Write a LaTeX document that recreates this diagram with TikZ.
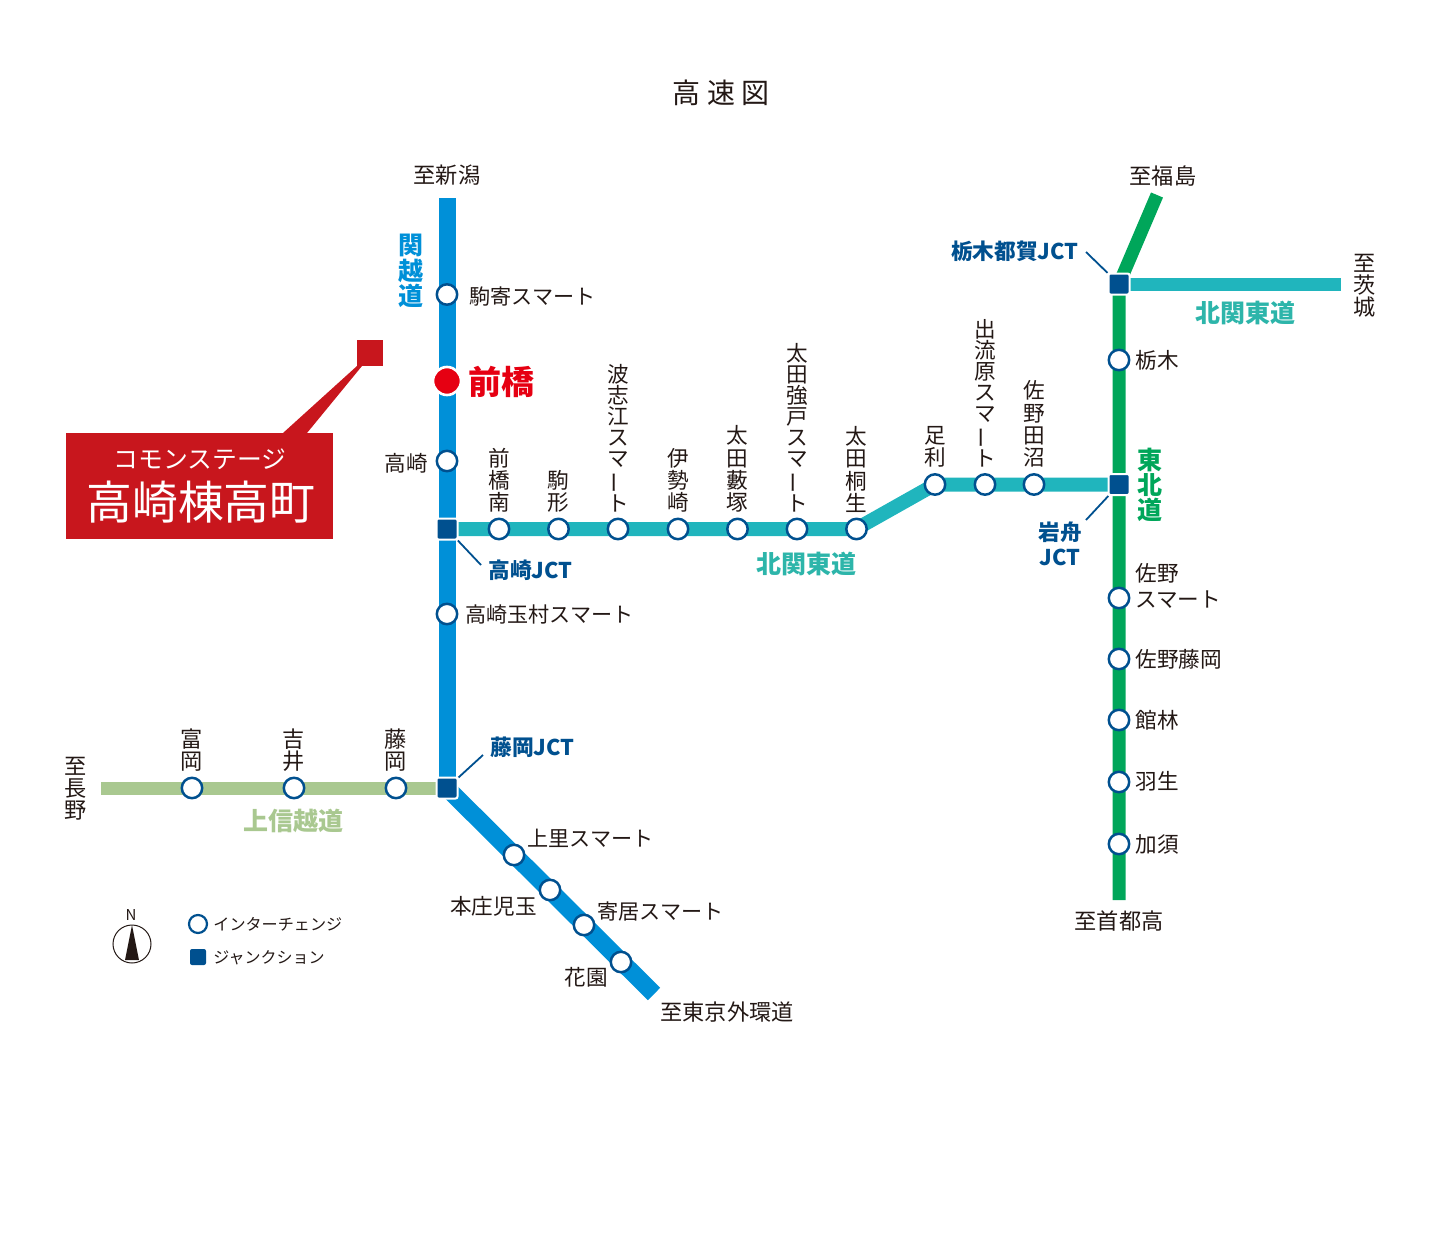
\documentclass[tikz,border=0pt]{standalone}
\usepackage{fontspec}
\setmainfont{Noto Sans CJK JP}
\usetikzlibrary{backgrounds}
\definecolor{kanblue}{HTML}{0090D8}
\definecolor{kitateal}{HTML}{20B5BD}
\definecolor{kitatext}{HTML}{2DB5AA}
\definecolor{tohgreen}{HTML}{00A65A}
\definecolor{joshin}{HTML}{A9C890}
\definecolor{navy}{HTML}{00508F}
\definecolor{callred}{HTML}{C8161D}
\definecolor{tagred}{HTML}{E60012}
\definecolor{inktext}{HTML}{231815}
\newcommand{\vbar}{\rotatebox[origin=c]{90}{ー}}
\tikzset{
  road/.style={line width=#1*0.5pt},
  ic/.style={circle,draw=navy,fill=white,line width=1.25pt,minimum size=10.2pt,inner sep=0pt},
  jct/.style={rectangle,rounded corners=1pt,fill=navy,draw=white,line width=1pt,minimum size=10.5pt,inner sep=0pt},
  lab/.style={inner sep=0pt,text=inktext,font=\fontsize{10.8}{13}\selectfont,align=center},
  smlab/.style={lab,font=\fontsize{10.55}{13}\selectfont},
  tolab/.style={lab,font=\fontsize{11.1}{11}\selectfont},
  vlab/.style={lab,font=\fontsize{10.8}{11.2}\selectfont},
  vsm/.style={lab,font=\fontsize{10.8}{10.45}\selectfont},
  jlab/.style={inner sep=0pt,text=navy,font=\fontsize{10.85}{12.2}\selectfont\bfseries,align=center},
  rname/.style={inner sep=0pt,font=\fontsize{12.5}{12.6}\selectfont\bfseries,align=center},
  leader/.style={navy,line width=0.9pt}
}
\begin{document}
\begin{tikzpicture}[x=0.5pt,y=-0.5pt]
  \useasboundingbox (0,0) rectangle (1441,1258);
  % road ends
  \coordinate(kanN) at (447,198);
  \coordinate(kanS) at (654,994);
  \coordinate(kitaE) at (1341,284);
  \coordinate(bend) at (856,529);
  \coordinate(tohN) at (1157,195);
  \coordinate(tohS) at (1119,900);
  \coordinate(shinW) at (101,788);
  % junctions
  \node[jct] (jTakasaki) at (447,529) {};
  \node[jct] (jFujioka) at (447,788) {};
  \node[jct] (jTsuga) at (1119,284) {};
  \node[jct] (jIwafune) at (1119,484.5) {};
  % leaders
  \coordinate(lTakasaki) at (481,565);
  \coordinate(lFujioka) at (483,755);
  \coordinate(lTsuga) at (1086,252);
  \coordinate(lIwafune) at (1086,520);
  \begin{scope}[on background layer]
    \draw[kanblue,road=17] (kanN)--(jFujioka.center);
    \draw[kanblue,road=17.5] (jFujioka.center)--(kanS);
    \draw[kitateal,road=14] (jTakasaki.center)--(bend)--(935,484.5)--(jIwafune.center);
    \draw[kitateal,road=13] (jTsuga.center)--(kitaE);
    \draw[tohgreen,road=13] (tohS)--(jTsuga.center)--(tohN);
    \draw[joshin,road=13] (shinW)--(jFujioka.center);
  \end{scope}
  \draw[leader] (jTakasaki)--(lTakasaki);
  \draw[leader] (jFujioka)--(lFujioka);
  \draw[leader] (jTsuga)--(lTsuga);
  \draw[leader] (jIwafune)--(lIwafune);
  % interchanges
  \node[ic] (komayose) at (447,294.5) {};
  \node[ic] (takasaki) at (447,461) {};
  \node[ic] (tamamura) at (447,614) {};
  \node[circle,fill=tagred,draw=white,line width=1.3pt,minimum size=14pt,inner sep=0pt] (maebashi) at (447,381) {};
  \foreach \n/\x in {a/499,b/558.5,c/618,d/678,e/737.5,f/797,g/856.5}
    \node[ic] (k\n) at (\x,529) {};
  \foreach \n/\x in {h/935,i/985,j/1034}
    \node[ic] (k\n) at (\x,484.5) {};
  \foreach \n/\y in {a/360,b/598,c/659,d/720,e/782,f/844}
    \node[ic] (t\n) at (1119,\y) {};
  \foreach \n/\x in {a/192,b/294,c/396}
    \node[ic] (s\n) at (\x,788) {};
  \node[ic] (kamisato) at (514,855) {};
  \node[ic] (honjo) at (550,890) {};
  \node[ic] (yorii) at (584,925) {};
  \node[ic] (hanazono) at (621,962) {};
  % title
  \node[lab,font=\fontsize{14}{16}\selectfont] (title) at (721,93) {高 速 図};
  % labels, blue line
  \node[tolab] (tNiigata) at (447,175) {至新潟};
  \node[rname,text=kanblue] (nKan) at (411,271) {関\\越\\道};
  \node[smlab,anchor=west] at (469,296) {駒寄スマート};
  \node[inner sep=0pt,text=tagred,font=\fontsize{16.5}{18}\selectfont\bfseries,anchor=west] (nMae) at (468,382) {前橋};
  \node[lab,anchor=east] at (428,463) {高崎};
  \node[jlab,anchor=west] at (488,570) {高崎JCT};
  \node[smlab,anchor=west] at (465,614) {高崎玉村スマート};
  % labels, teal line
  \node[vlab,anchor=south] at (499,513) {前\\橋\\南};
  \node[vlab,anchor=south] at (558,513) {駒\\形};
  \node[vsm,anchor=south] at (618,513) {波\\志\\江\\ス\\マ\\\vbar\\ト};
  \node[vlab,anchor=south] at (678,513) {伊\\勢\\崎};
  \node[vlab,anchor=south] at (737,513) {太\\田\\藪\\塚};
  \node[vsm,anchor=south] at (797,513) {太\\田\\強\\戸\\ス\\マ\\\vbar\\ト};
  \node[vlab,anchor=south] at (856,513) {太\\田\\桐\\生};
  \node[vlab,anchor=south] at (935,468) {足\\利};
  \node[vsm,anchor=south] at (985,468) {出\\流\\原\\ス\\マ\\\vbar\\ト};
  \node[vlab,anchor=south] at (1034,468) {佐\\野\\田\\沼};
  \node[rname,text=kitatext] at (806,564) {北関東道};
  \node[rname,text=kitatext] at (1245,313) {北関東道};
  % labels, green line
  \node[tolab] at (1163,176) {至福島};
  \node[tolab] at (1365,286) {至\\茨\\城};
  \node[jlab,anchor=east] at (1079,251) {栃木都賀JCT};
  \node[lab,anchor=west] at (1135,360) {栃木};
  \node[rname,text=tohgreen] at (1150,485) {東\\北\\道};
  \node[jlab] at (1060,544) {岩舟\\JCT};
  \node[lab,anchor=west,align=left] at (1135,586) {佐野\\スマート};
  \node[lab,anchor=west] at (1135,659) {佐野藤岡};
  \node[lab,anchor=west] at (1135,720) {館林};
  \node[lab,anchor=west] at (1135,781) {羽生};
  \node[lab,anchor=west] at (1135,844) {加須};
  \node[tolab] at (1119,921) {至首都高};
  % labels, south west
  \node[tolab] at (76,789) {至\\長\\野};
  \node[tolab] at (192,750) {富\\岡};
  \node[tolab] at (294,750) {吉\\井};
  \node[tolab] at (396,750) {藤\\岡};
  \node[rname,text=joshin] at (293,821) {上信越道};
  \node[jlab,anchor=west] at (490,747) {藤岡JCT};
  \node[smlab,anchor=west] at (527,838) {上里スマート};
  \node[lab,anchor=east] at (537,906) {本庄児玉};
  \node[smlab,anchor=west] at (597,911) {寄居スマート};
  \node[lab,anchor=east] at (608,977) {花園};
  \node[tolab,anchor=west] at (660,1012) {至東京外環道};
  % callout
  \fill[callred] (357,340) rectangle (383,366);
  \fill[callred] (357,366)--(283,433)--(307,433)--(362,366)--cycle;
  \fill[callred] (66,433) rectangle (333,539);
  \node[inner sep=0pt,text=white,font=\fontsize{12.4}{13}\selectfont] at (200,459) {コモンステージ};
  \node[inner sep=0pt,text=white,font=\fontsize{22.9}{24}\selectfont] at (201,502) {高崎棟高町};
  % legend
  \node[inner sep=0pt,text=inktext,font=\fontsize{7.5}{8}\selectfont] at (131,915) {N};
  \draw[inktext,line width=0.5pt] (132,944) circle (19);
  \fill[inktext] (132,925)--(125,960)--(139,960)--cycle;
  \node[ic,minimum size=9pt,line width=1.1pt] (legIc) at (198,924) {};
  \node[jct,minimum size=8pt,draw=none] (legJct) at (198,957) {};
  \node[lab,anchor=west,font=\fontsize{8.05}{9}\selectfont] at (213,924) {インターチェンジ};
  \node[lab,anchor=west,font=\fontsize{8}{9}\selectfont] at (213,957.5) {ジャンクション};
\end{tikzpicture}
\end{document}
